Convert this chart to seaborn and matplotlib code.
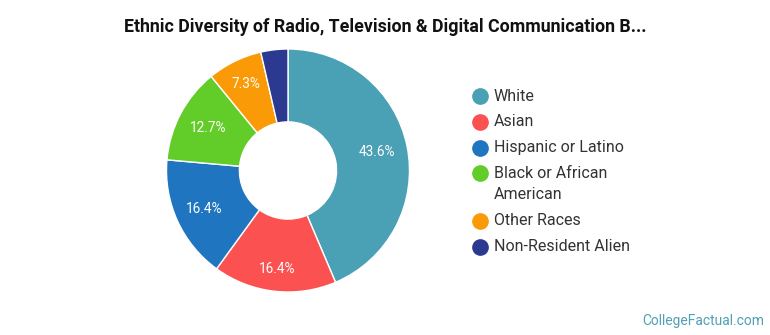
import matplotlib
matplotlib.use("Agg")
import matplotlib.pyplot as plt
import numpy as np
import seaborn as sns

categories = ["White", "Asian", "Hispanic or Latino", "Black or African\nAmerican",
              "Other Races", "Non-Resident Alien"]
values = [43.6, 16.4, 16.4, 12.7, 7.3, 3.6]
pct_labels = ["43.6%", "16.4%", "16.4%", "12.7%", "7.3%", ""]
hex_colors = ["#4aa0b5", "#fc5151", "#1f75c0", "#62cc28", "#fb9a07", "#2b3990"]
label_radius = [0.75, 0.82, 0.755, 0.745, 0.79, 0.75]

sns.set_theme(style="white")
plt.rcParams["font.family"] = ["Roboto", "DejaVu Sans"]
palette = sns.color_palette(hex_colors)

W, H = 770, 335
fig = plt.figure(figsize=(W / 100, H / 100), dpi=100)
ax = fig.add_axes([166.5 / W, (H - 292) / H, 243 / W, 243 / H])

wedges, _ = ax.pie(values, colors=palette, startangle=90, counterclock=False,
                   radius=1.0, wedgeprops=dict(width=0.6, edgecolor="white", linewidth=1))
cum = np.cumsum([0] + values[:-1])
for start, v, lab, r in zip(cum, values, pct_labels, label_radius):
    if not lab:
        continue
    mid = 90 - (start + v / 2) * 3.6
    ax.text(r * np.cos(np.radians(mid)), r * np.sin(np.radians(mid)), lab,
            ha="center", va="center", color="white", fontsize=9.8)
ax.set_xlim(-1, 1)
ax.set_ylim(-1, 1)
ax.set_aspect("equal")
ax.axis("off")

fig.text(0.5, 1 - 27 / H, "Ethnic Diversity of Radio, Television & Digital Communication B...",
         ha="center", va="center", fontsize=12.8, fontweight="bold", color="#111111")

# legend drawn manually to match the reference layout
y = 96.0
for c, lab in zip(palette, categories):
    fig.lines.append(plt.Line2D([480 / W], [1 - y / H], marker="o", markersize=11,
                                linestyle="", markerfacecolor=c, markeredgecolor=c,
                                transform=fig.transFigure, figure=fig))
    lines = lab.split("\n")
    for k, ln in enumerate(lines):
        fig.text(494 / W, 1 - (y + 21.5 * k) / H, ln, ha="left", va="center",
                 fontsize=11.5, color="#333333")
    y += 25.8 + 21.5 * (len(lines) - 1)

fig.text(1 - 6 / W, 1 - 321 / H, "CollegeFactual.com", ha="right", va="center",
         fontsize=10, color="#52a0b4")

fig.savefig("out.png", dpi=100, facecolor="white")
